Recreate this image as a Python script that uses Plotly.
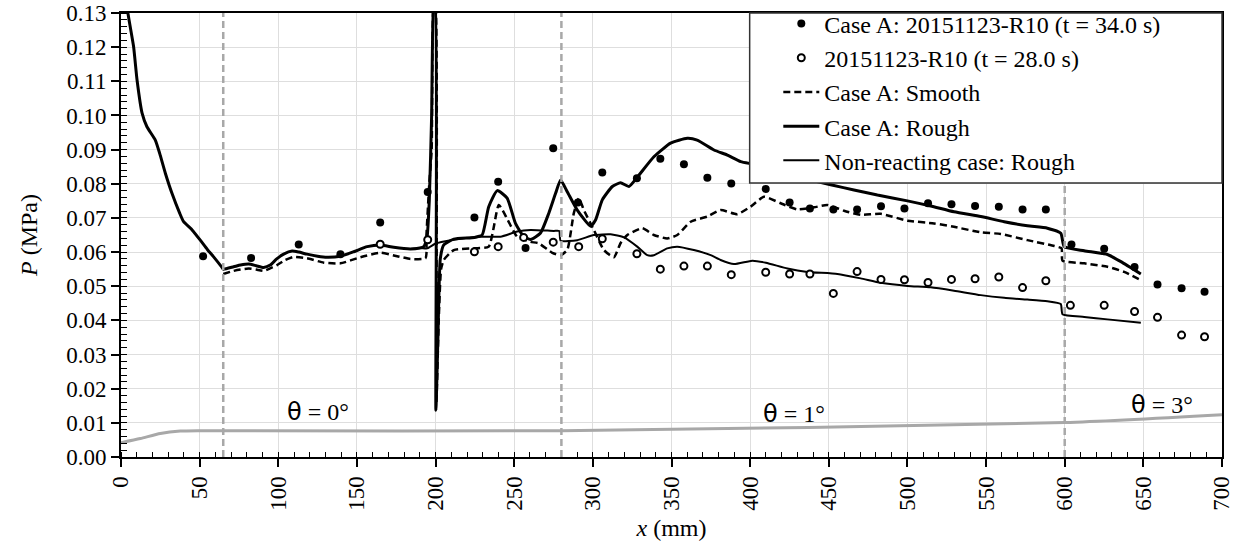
import plotly.graph_objects as go

# ---------------- data ----------------
exp34_x = [52.2, 82.7, 113, 139.5, 164.8, 195, 224.7, 239.8, 257.2, 274.8, 290.5, 306, 328, 342.9,
           357.9, 372.8, 388, 409.9, 425.1, 438, 452.9, 468, 483.2, 498.1, 513.1, 528, 543, 558.1,
           573.2, 588, 604.3, 625.1, 644.4, 659, 674.3, 688.9]
exp34_p = [0.0588, 0.0583, 0.0622, 0.0594, 0.0687, 0.0776, 0.0701, 0.0806, 0.0612, 0.0904, 0.0745,
           0.0833, 0.0816, 0.0873, 0.0857, 0.0818, 0.0801, 0.0785, 0.0745, 0.0728, 0.0725, 0.0725,
           0.0734, 0.0728, 0.0743, 0.0740, 0.0735, 0.0733, 0.0725, 0.0725, 0.0622, 0.0610, 0.0556,
           0.0505, 0.0494, 0.0484]

exp28_x = [164.8, 195, 224.7, 239.8, 256, 274.8, 291, 306, 328, 342.9, 357.9, 372.8, 388, 409.9,
           425.1, 438, 452.9, 468, 483.2, 498.1, 513.1, 528, 543, 558.1, 573.2, 588, 603.6, 625.1,
           644.4, 659, 674.3, 688.9]
exp28_p = [0.0623, 0.0636, 0.0601, 0.0616, 0.0643, 0.0629, 0.0616, 0.0639, 0.0595, 0.0550, 0.0559,
           0.0559, 0.0534, 0.0541, 0.0536, 0.0536, 0.0479, 0.0543, 0.0520, 0.0519, 0.0511, 0.0520,
           0.0522, 0.0527, 0.0496, 0.0516, 0.0444, 0.0444, 0.0426, 0.0409, 0.0357, 0.0352]

smooth_x = [65, 71.6, 76, 81.2, 86, 90.7, 99.2, 104, 109.8, 118.3, 128.9, 139.5, 152.2, 165, 175.6,
            184, 193.6, 194.2, 196, 197.5, 199, 199.7, 200.5, 202, 203.5, 205.2, 211.6, 224.7, 233.8,
            240.2, 245.9, 251.9, 260.4, 265.5, 274.2, 279.5, 283.7, 287.9, 291.1, 294.3, 300.6, 307,
            313.4, 317.6, 321.9, 331.4, 338.8, 347.3, 353.7, 362.2, 372.8, 381.2, 391.8, 400.3, 408.8,
            419.4, 430, 440.6, 449.1, 459.7, 470.3, 483, 500, 516.9, 529.6, 546.6, 559.3, 576.3,
            593.3, 598, 598.6, 612.4, 627.2, 637.8, 648.4]
smooth_p = [0.0536, 0.0545, 0.0549, 0.0552, 0.0549, 0.0545, 0.0562, 0.0576, 0.0586, 0.0582, 0.0569,
            0.0567, 0.0585, 0.0598, 0.0588, 0.0580, 0.0582, 0.0650, 0.0800, 0.0900, 0.1350, 0.1350,
            0.0160, 0.0400, 0.0550, 0.0577, 0.0606, 0.0611, 0.0616, 0.0738, 0.0694, 0.0645, 0.0630,
            0.0626, 0.0598, 0.0591, 0.0606, 0.0714, 0.0758, 0.0723, 0.0665, 0.0606, 0.0585, 0.0626,
            0.0650, 0.0670, 0.0650, 0.0640, 0.0650, 0.0689, 0.0704, 0.0723, 0.0711, 0.0733, 0.0762,
            0.0743, 0.0725, 0.0731, 0.0738, 0.0721, 0.0709, 0.0712, 0.0692, 0.0684, 0.0674, 0.0658,
            0.0653, 0.0635, 0.0618, 0.0611, 0.0575, 0.0567, 0.0557, 0.0542, 0.0518]

rough_x = [2, 4.4, 8, 10.2, 13.4, 16.5, 21.8, 24.6, 28.2, 32.4, 37.3, 39.8, 45.2, 50.4, 55, 58.9,
           64.2, 65, 71.6, 76, 81.2, 86, 90.7, 94.9, 99, 103.4, 108.8, 113, 118.3, 125, 131, 139.5,
           148, 156.5, 165, 173.4, 184, 190, 192.5, 194.5, 196, 197.5, 199, 199.6, 200.2, 201.5,
           203, 205.2, 211.6, 224.7, 229.6, 233.8, 239.2, 245.5, 250.8, 256.1, 260.4, 266.6, 272,
           276.3, 279.5, 283.7, 290.1, 298.5, 301.7, 306, 312.4, 317.6, 322.9, 328.2, 338.8, 349.4,
           360, 366.3, 377, 385.5, 394, 402.4, 413, 423.7, 436.4, 451.2, 466, 480.9, 500, 514.8,
           529.6, 546.6, 561.5, 576.3, 589, 597.5, 599.7, 612.4, 627.2, 635.7, 648.4]
rough_p = [0.140, 0.130, 0.1202, 0.1104, 0.1007, 0.0967, 0.0928, 0.0889, 0.0831, 0.0772, 0.0714,
           0.0689, 0.0665, 0.0635, 0.0607, 0.0586, 0.0555, 0.0550, 0.0557, 0.0562, 0.0565, 0.0560,
           0.0555, 0.0562, 0.0580, 0.0594, 0.0603, 0.0600, 0.0594, 0.0588, 0.0585, 0.0588, 0.0601,
           0.0616, 0.0621, 0.0614, 0.0609, 0.0612, 0.0616, 0.0640, 0.0750, 0.1000, 0.1350, 0.1350,
           0.0137, 0.0350, 0.0580, 0.0621, 0.0638, 0.0643, 0.0650, 0.0733, 0.0780, 0.0758, 0.0684,
           0.0645, 0.0637, 0.0655, 0.0714, 0.0772, 0.0811, 0.0777, 0.0723, 0.0676, 0.0694, 0.0753,
           0.0792, 0.0803, 0.0792, 0.0819, 0.0879, 0.0919, 0.0933, 0.0928, 0.0899, 0.0884, 0.0865,
           0.0857, 0.0843, 0.0826, 0.0813, 0.0797, 0.0782, 0.0767, 0.0750, 0.0735, 0.0718, 0.0704,
           0.0689, 0.0677, 0.0670, 0.0655, 0.0616, 0.0604, 0.0593, 0.0572, 0.0536]

nonreact_x = [184, 190.4, 194.6, 200, 209.5, 228.6, 241.3, 251.9, 260.4, 275.2, 278.6, 279.5, 290.1,
              300.6, 311.3, 319.8, 328.2, 334.6, 338.8, 347.3, 353.7, 364.2, 374.9, 381.2, 389.7,
              401.4, 410, 423.7, 436.4, 455.5, 470.3, 483, 500, 514.8, 529.6, 546.6, 561.5, 576.3,
              589, 597.5, 598.6, 612.4, 627.2, 648.4]
nonreact_p = [0.0609, 0.0612, 0.0611, 0.0625, 0.0635, 0.0645, 0.0645, 0.0660, 0.0665, 0.0662, 0.0662,
              0.0633, 0.0635, 0.0650, 0.0652, 0.0643, 0.0616, 0.0591, 0.0591, 0.0611, 0.0616, 0.0606,
              0.0591, 0.0577, 0.0565, 0.0575, 0.0569, 0.0552, 0.0542, 0.0536, 0.0523, 0.0510, 0.0501,
              0.0497, 0.0487, 0.0474, 0.0466, 0.0461, 0.0456, 0.0448, 0.0418, 0.0410, 0.0403, 0.0393]

geom_x = [0, 12.3, 25, 37.7, 50.4, 65, 280, 600, 700]
geom_p = [0.0042, 0.0054, 0.0069, 0.0076, 0.0077, 0.0077, 0.0077, 0.0101, 0.0124]

section_x = [65, 280, 600]
theta_labels = ["θ = 0°", "θ = 1°", "θ = 3°"]
theta_x = [125, 428, 662]
theta_y = [0.0132, 0.0127, 0.0152]

x_ticks = list(range(0, 701, 50))
y_ticks = [0.00, 0.01, 0.02, 0.03, 0.04, 0.05, 0.06, 0.07, 0.08, 0.09, 0.10, 0.11, 0.12, 0.13]

# ---------------- figure ----------------
FONT = "Liberation Serif"
TICK_SIZE = 23
fig = go.Figure()

fig.add_trace(go.Scatter(x=geom_x, y=geom_p, mode="lines", showlegend=False,
                         line=dict(color="#a8a8a8", width=3, shape="spline", smoothing=0.6),
                         hoverinfo="skip"))

fig.add_trace(go.Scatter(x=nonreact_x, y=nonreact_p, mode="lines", name="Non-reacting case: Rough",
                         legendrank=5, legendgroup="e",
                         line=dict(color="black", width=2, shape="spline", smoothing=0.5)))
fig.add_trace(go.Scatter(x=smooth_x, y=smooth_p, mode="lines", name="Case A: Smooth",
                         legendrank=3, legendgroup="c",
                         line=dict(color="black", width=2.5, dash="7px,4px", shape="spline",
                                   smoothing=0.5)))
fig.add_trace(go.Scatter(x=rough_x, y=rough_p, mode="lines", name="Case A: Rough",
                         legendrank=4, legendgroup="d",
                         line=dict(color="black", width=3, shape="spline", smoothing=0.5)))
fig.add_trace(go.Scatter(x=exp34_x, y=exp34_p, mode="markers",
                         name="Case A: 20151123-R10 (t = 34.0 s)", legendrank=1, legendgroup="a",
                         marker=dict(color="black", size=8, symbol="circle")))
fig.add_trace(go.Scatter(x=exp28_x, y=exp28_p, mode="markers",
                         name="20151123-R10 (t = 28.0 s)", legendrank=2, legendgroup="b",
                         marker=dict(color="white", size=7, symbol="circle",
                                     line=dict(color="black", width=2))))

for sx in section_x:
    fig.add_shape(type="line", x0=sx, x1=sx, y0=0, y1=1, xref="x", yref="paper",
                  line=dict(color="#a8a8a8", width=2.5, dash="7px,4px"))

# legend frame (white box, drawn above the data, below the legend text)
fig.add_shape(type="rect", xref="paper", yref="paper", x0=0.571, x1=1.0, y0=0.617, y1=1.0,
              fillcolor="white", line=dict(color="#333333", width=1.5), layer="above")

for lab, tx, ty in zip(theta_labels, theta_x, theta_y):
    parts = lab.split(" ", 1)
    txt = '<span style="font-family:DejaVu Sans">' + parts[0] + '</span> ' + parts[1]
    fig.add_annotation(x=tx, y=ty, text=txt, showarrow=False,
                       font=dict(family=FONT, size=24, color="black"))

axis_common = dict(
    showline=True, linecolor="black", linewidth=2, mirror=True,
    showgrid=True, gridcolor="#dedede", gridwidth=1, zeroline=False,
    ticks="outside", ticklen=8, tickwidth=1.5, tickcolor="black",
    tickfont=dict(family=FONT, size=TICK_SIZE, color="black"),
    ticklabeloverflow="allow",
)

fig.update_xaxes(range=[0, 700], tickvals=x_ticks, tickangle=-90,
                 title=dict(text="<i>x</i> (mm)", font=dict(family=FONT, size=24, color="black"),
                            standoff=9),
                 minor=dict(ticks="inside", dtick=10, tick0=0, ticklen=5, tickwidth=1,
                            tickcolor="black", showgrid=False),
                 automargin=False,
                 **axis_common)
fig.update_yaxes(range=[0, 0.13001], tickvals=y_ticks, tickformat=".2f",
                 title=dict(text="<i>P</i> (MPa)", font=dict(family=FONT, size=24, color="black"),
                            standoff=22),
                 minor=dict(ticks="inside", dtick=0.002, tick0=0, ticklen=6, tickwidth=1,
                            tickcolor="black", showgrid=False),
                 automargin=False,
                 **axis_common)

fig.update_layout(
    width=1244, height=548,
    margin=dict(l=121, r=22, t=13, b=91, autoexpand=False),
    plot_bgcolor="white", paper_bgcolor="white",
    font=dict(family=FONT, size=24, color="black"),
    legend=dict(x=0.597, xanchor="left", y=1.026, yanchor="top", bgcolor="rgba(0,0,0,0)",
                borderwidth=0, tracegroupgap=0, itemwidth=36,
                font=dict(family=FONT, size=24, color="black")),
)

fig.write_html("out.html",
               config={"displayModeBar": False},
               post_script="document.body.style.margin='0';document.body.style.overflow='hidden';")
